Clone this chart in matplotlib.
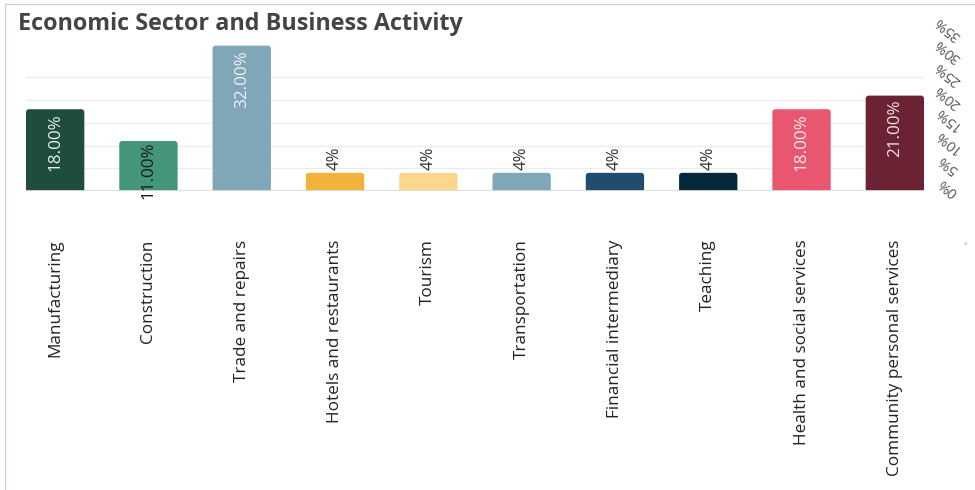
import matplotlib
matplotlib.use("Agg")
import matplotlib.pyplot as plt
from matplotlib.lines import Line2D
from matplotlib.patches import FancyBboxPatch
from matplotlib.transforms import blended_transform_factory, ScaledTranslation

title = "Economic Sector and Business Activity"
categories = ["Manufacturing", "Construction", "Trade and repairs", "Hotels and restaurants",
              "Tourism", "Transportation", "Financial intermediary", "Teaching",
              "Health and social services", "Community personal services"]
values = [18, 11, 32, 4, 4, 4, 4, 4, 18, 21]
value_labels = ["18.00%", "11.00%", "32.00%", "4%", "4%", "4%", "4%", "4%", "18.00%", "21.00%"]
colors = ["#1f4d3c", "#43967a", "#7fa7b8", "#f2b33d", "#fcd68a", "#7fa7b8",
          "#204d6e", "#04293a", "#e8566f", "#6b2233"]
label_colors = ["#e9efec", "#1a1a1a", "#eef3f5", "#333333", "#333333", "#333333",
                "#333333", "#333333", "#fbe9ec", "#f1e3e6"]
y_ticks = [0, 5, 10, 15, 20, 25, 30, 35]
y_tick_labels = ["0%", "5%", "10%", "15%", "20%", "25%", "30%", "35%"]
grid_levels = [5, 10, 15, 20, 25]

plt.rcParams['font.family'] = ['Open Sans', 'DejaVu Sans']

W, H = 975, 490
fig = plt.figure(figsize=(W / 100, H / 100), dpi=100)
fig.patch.set_facecolor("white")

# outer frame lines
fig.add_artist(Line2D([5 / W, 1.0], [1 - 4 / H, 1 - 4 / H], color="#dfccd4", lw=1.0))
fig.add_artist(Line2D([5 / W, 5 / W], [0, 1 - 4 / H], color="#dfccd4", lw=1.0))

ax = fig.add_axes([26 / W, 1 - 191 / H, (924 - 26) / W, (191 - 32) / H])
x = list(range(len(categories)))
bars = ax.bar(x, values, width=0.625, color=colors, zorder=2)
ax.set_xlim(-0.3125, len(categories) - 1 + 0.3125)
ax.set_ylim(0, 35)

# rounded tops: replace each rectangle with a rounded box of the same bounds
px_x = (len(categories) - 1 + 0.625) / (924 - 26)   # data units per pixel (x)
px_y = 35 / (191 - 32)                               # data units per pixel (y)
for rect in bars:
    bx, by, bw, bh = rect.get_x(), rect.get_y(), rect.get_width(), rect.get_height()
    rect.set_visible(False)
    rb = FancyBboxPatch((bx, by - 1), bw, bh + 1,
                        boxstyle=f"round,pad=0,rounding_size={3 * px_x}",
                        mutation_aspect=px_y / px_x,
                        facecolor=rect.get_facecolor(), edgecolor="none", zorder=2)
    ax.add_patch(rb)

for g in grid_levels:
    ax.axhline(g, color="#ececec", lw=1.0, zorder=0)
ax.axhline(0, color="#dcdcdc", lw=1.3, zorder=3)

for s in ax.spines.values():
    s.set_visible(False)

ax.set_xticks(x, categories, rotation=90)
ax.tick_params(axis="x", length=0, pad=35, labelsize=12.3, labelcolor="#222222")

# right-hand percentage axis with slanted labels
ax.set_yticks([])
ytrans = blended_transform_factory(fig.transFigure, ax.transData) + \
    ScaledTranslation(0, 4 / 100, fig.dpi_scale_trans)
for t, lab in zip(y_ticks, y_tick_labels):
    ax.text(948 / W, t, lab, transform=ytrans, rotation=140, ha="center", va="center",
            fontsize=10.5, color="#555555", clip_on=False)

for xi, v, lab, lc in zip(x, values, value_labels, label_colors):
    if v > 5:
        ax.annotate(lab, (xi, v), xytext=(0, -3 if v != 11 else -0.5), textcoords="offset points",
                    rotation=90, ha="center", va="top", fontsize=12.3, color=lc, zorder=4)
    else:
        ax.annotate(lab, (xi, v), xytext=(0, 2), textcoords="offset points",
                    rotation=90, ha="center", va="bottom", fontsize=12, color=lc, zorder=4)

fig.text(18 / W, 1 - 29.5 / H, title, fontsize=16.8, fontweight="bold", color="#444444",
         ha="left", va="baseline")
fig.text(965 / W, 1 - 243 / H, ",", fontsize=7, color="#777777", rotation=150,
         ha="center", va="center")

fig.savefig("out.png", dpi=100)
